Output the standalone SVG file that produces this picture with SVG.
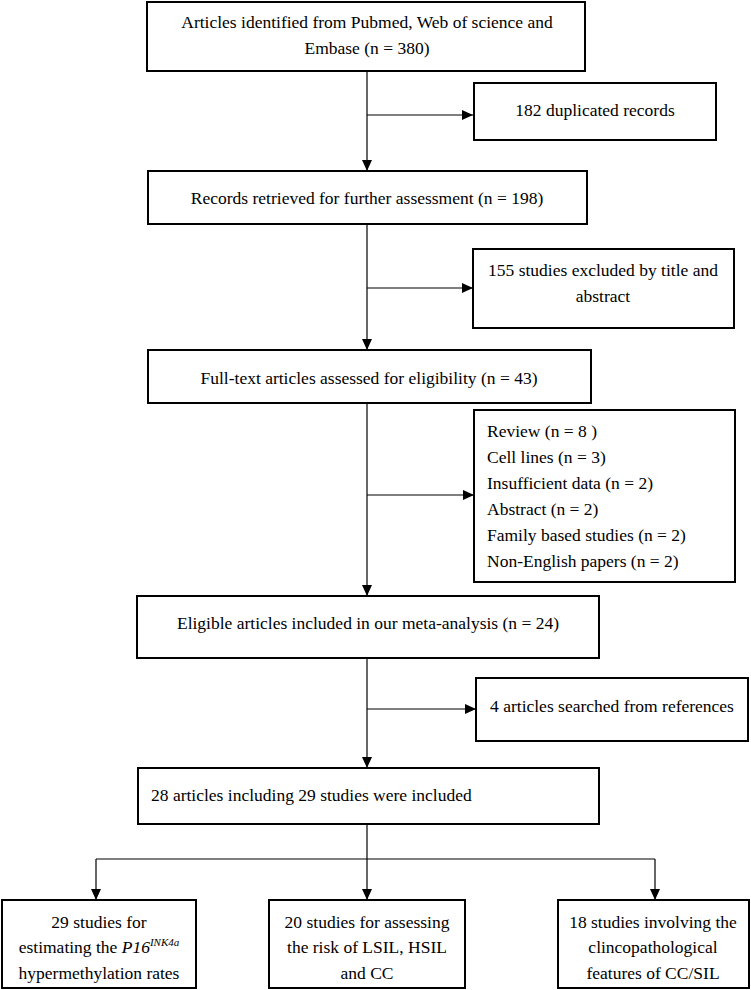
<svg xmlns="http://www.w3.org/2000/svg" width="751" height="990" viewBox="0 0 751 990" font-family="'Liberation Serif', 'Times New Roman', serif" font-size="17.5">
<defs>
<marker id="ah" markerUnits="userSpaceOnUse" markerWidth="12" markerHeight="10" refX="11" refY="5" orient="auto">
<path d="M0,0 L11,5 L0,10 z" fill="#000"/>
</marker>
<style>
.box{fill:#fff;stroke:#000;stroke-width:2}
.t{fill:#000}
.c{text-anchor:middle}
.ln{fill:none;stroke:#000;stroke-width:1.2}
.arr{fill:none;stroke:#000;stroke-width:1.2;marker-end:url(#ah)}
</style>
</defs>
<rect width="751" height="990" fill="#fff"/>
<g id="connectors">
<path class="arr" d="M367,71 V171"/>
<path class="arr" d="M367,115 H473"/>
<path class="arr" d="M367,224 V350"/>
<path class="arr" d="M367,288 H473"/>
<path class="arr" d="M367,403 V596"/>
<path class="arr" d="M367,495 H474"/>
<path class="arr" d="M367,658 V768"/>
<path class="arr" d="M367,709 H476"/>
<path class="ln" d="M367,824 V859"/>
<path class="ln" d="M96,859 H655"/>
<path class="arr" d="M96,859 V900"/>
<path class="arr" d="M367,859 V900"/>
<path class="arr" d="M655,859 V900"/>
</g>
<g id="n1"><rect class="box" x="147" y="2" width="438" height="69"/>
<text class="t c" x="367" y="28">Articles identified from Pubmed, Web of science and</text>
<text class="t c" x="367" y="54">Embase (n = 380)</text></g>
<g id="n2"><rect class="box" x="474" y="83" width="242" height="57"/>
<text class="t c" x="595" y="116">182 duplicated records</text></g>
<g id="n3"><rect class="box" x="148" y="171" width="439" height="53"/>
<text class="t c" x="367" y="204">Records retrieved for further assessment (n = 198)</text></g>
<g id="n4"><rect class="box" x="473" y="249" width="261" height="79"/>
<text class="t c" x="603" y="276">155 studies excluded by title and</text>
<text class="t c" x="603" y="302">abstract</text></g>
<g id="n5"><rect class="box" x="148" y="350" width="443" height="53"/>
<text class="t c" x="369" y="384">Full-text articles assessed for eligibility (n = 43)</text></g>
<g id="n6"><rect class="box" x="474" y="410" width="261" height="172"/>
<text class="t" x="487" y="437">Review (n = 8 )</text>
<text class="t" x="487" y="463">Cell lines (n = 3)</text>
<text class="t" x="487" y="489">Insufficient data (n = 2)</text>
<text class="t" x="487" y="515">Abstract (n = 2)</text>
<text class="t" x="487" y="541">Family based studies (n = 2)</text>
<text class="t" x="487" y="567">Non-English papers (n = 2)</text></g>
<g id="n7"><rect class="box" x="137" y="596" width="462" height="62"/>
<text class="t c" x="368" y="629">Eligible articles included in our meta-analysis (n = 24)</text></g>
<g id="n8"><rect class="box" x="476" y="678" width="272" height="63"/>
<text class="t c" x="612" y="712">4 articles searched from references</text></g>
<g id="n9"><rect class="box" x="138" y="768" width="461" height="56"/>
<text class="t" x="151" y="801">28 articles including 29 studies were included</text></g>
<g id="n10"><rect class="box" x="2" y="900" width="194" height="88"/>
<text class="t c" x="99" y="928">29 studies for</text>
<text class="t c" x="99" y="953">estimating the <tspan font-style="italic">P16</tspan><tspan font-style="italic" font-size="11" dy="-7">INK4a</tspan></text>
<text class="t c" x="99" y="979">hypermethylation rates</text></g>
<g id="n11"><rect class="box" x="269" y="900" width="196" height="88"/>
<text class="t c" x="367" y="928">20 studies for assessing</text>
<text class="t c" x="367" y="953">the risk of LSIL, HSIL</text>
<text class="t c" x="367" y="979">and CC</text></g>
<g id="n12"><rect class="box" x="558" y="900" width="191" height="88"/>
<text class="t c" x="653" y="928">18 studies involving the</text>
<text class="t c" x="653" y="953">clincopathological</text>
<text class="t c" x="653" y="979">features of CC/SIL</text></g>
</svg>
